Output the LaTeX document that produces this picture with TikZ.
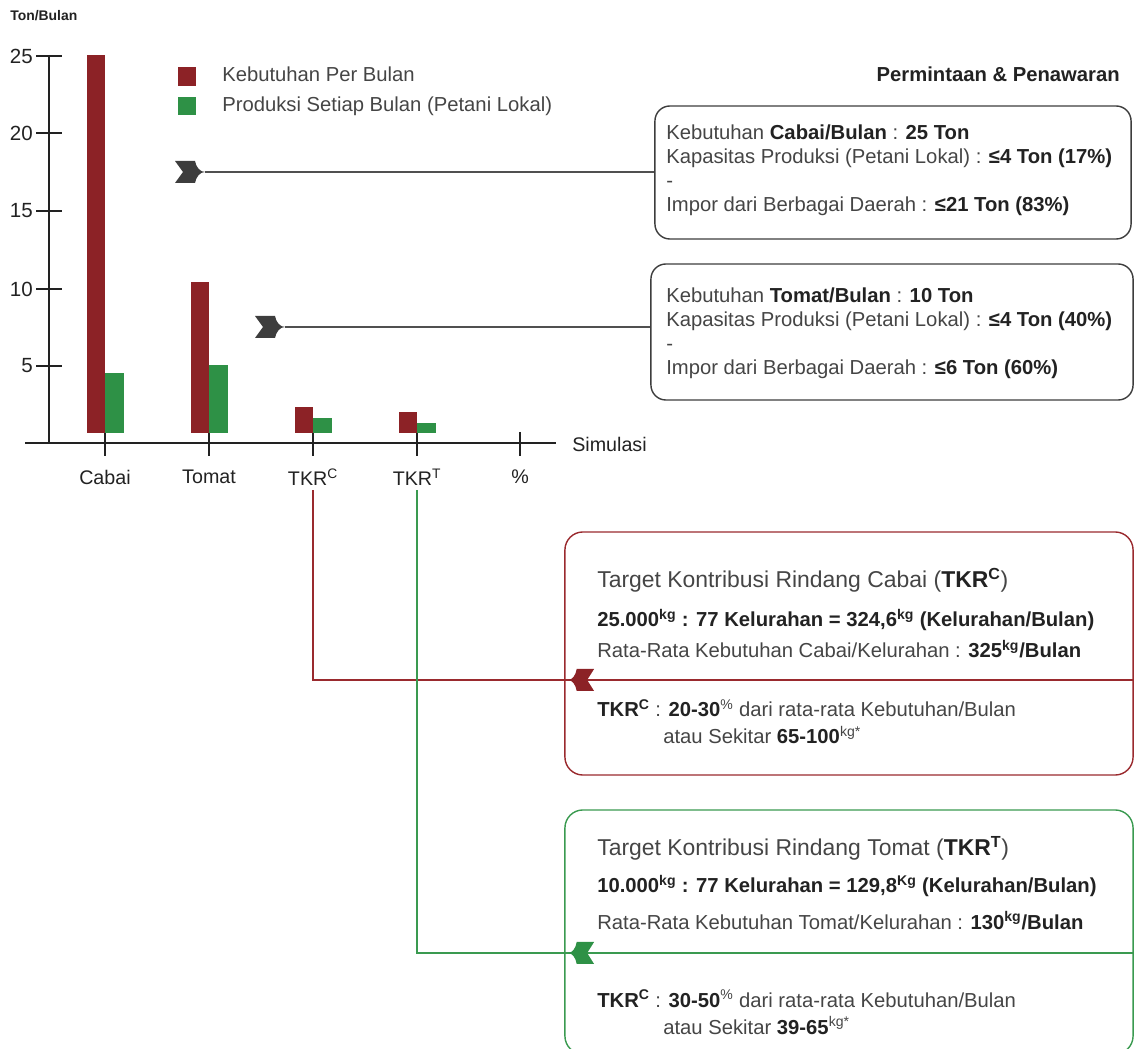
\documentclass[tikz,border=0pt]{standalone}
\usepackage{fontspec}
\setmainfont{Liberation Sans}
\usetikzlibrary{calc}
\definecolor{kebred}{HTML}{8C2226}
\definecolor{prodgreen}{HTML}{2E9146}
\definecolor{arrgray}{HTML}{3D3D3D}
\definecolor{txtgray}{HTML}{454545}
\definecolor{darktxt}{HTML}{222222}
\definecolor{boxred}{HTML}{9A2A2E}
\definecolor{boxgreen}{HTML}{3A9A50}
\tikzset{
    body/.style={anchor=base west, inner sep=0pt, text=txtgray, font=\fontsize{14.4}{17}\selectfont},
    head/.style={body, text=darktxt, font=\fontsize{14.4}{17}\selectfont\bfseries},
    title/.style={body, font=\fontsize{16.3}{19}\selectfont},
    unitlbl/.style={anchor=base west, inner sep=0pt, text=darktxt, font=\fontsize{9.9}{12}\selectfont\bfseries},
    num/.style={anchor=east, inner sep=0pt, text=darktxt, font=\fontsize{14.6}{17}\selectfont},
    cat/.style={text=darktxt, font=\fontsize{14}{17}\selectfont},
    axis/.style={line width=1.4pt, darktxt},
    conn/.style={line width=1pt, arrgray!90},
    infobox/.style={draw=arrgray, line width=1pt, rounded corners=0.375cm},
    tkrbox/.style={line width=1pt, rounded corners=0.45cm}
}
\newcommand{\hb}[1]{\textbf{\color{darktxt}#1}}
\newcommand{\chevtip}[3]{%
    \fill[#2, shift={(#1)}, xscale=#3] (0,0) .. controls (-5,0) and (-9,-5) .. (-10,-11)
        -- (-30,-11) -- (-22,0) -- (-30,11) -- (-10,11) .. controls (-9,5) and (-5,0) .. (0,0) -- cycle;}

\begin{document}
\begin{tikzpicture}[x=0.025cm, y=-0.025cm]
    \useasboundingbox (0,0) rectangle (1134,1049);

    % axes
    \node[unitlbl] (unit) at (10,21) {Ton/Bulan};
    \draw[axis] (49,55) -- (49,443);
    \draw[axis] (25,443) -- (556,443);
    \foreach \y/\v in {56/25,133/20,211/15,289/10,366/5}{
        \draw[axis] (36,\y) -- (62,\y);
        \node[num] (y\v) at (33,\y) {\v};
    }
    \foreach \x/\n/\t in {105/cab/Cabai,209/tom/Tomat,313/tkrc/TKR\textsuperscript{C},417/tkrt/TKR\textsuperscript{T},520/pct/\%}{
        \draw[axis] (\x,432) -- (\x,456);
        \node[cat] (\n) at (\x,477) {\t};
    }
    \node[cat, anchor=west, inner sep=0pt] (sim) at (572,444) {Simulasi};

    % bars
    \foreach \x/\r/\g in {105/55/373,209/282/365,313/407/418,417/412/423}{
        \fill[kebred] (\x-18,433) rectangle (\x,\r);
        \fill[prodgreen] (\x,433) rectangle (\x+19,\g);
    }

    % legend
    \fill[kebred] (178,67) rectangle (196,86);
    \fill[prodgreen] (178,97) rectangle (196,115);
    \node[body] (legK) at (222,82) {Kebutuhan Per Bulan};
    \node[body] (legP) at (222,112) {Produksi Setiap Bulan (Petani Lokal)};
    \node[head, anchor=base east] (perm) at (1120,82) {Permintaan \& Penawaran};

    % supply boxes
    \node[infobox, minimum width=11.9cm, minimum height=3.325cm] (cabaiBox) at (893,172.5) {};
    \node[body] (c1) at (666,140) {Kebutuhan \hb{Cabai/Bulan} : \hb{25 Ton}};
    \node[body] (c2) at (666,164) {Kapasitas Produksi (Petani Lokal) : \hb{≤4 Ton (17\%)}};
    \node[body] (c3) at (666,188) {-};
    \node[body] (c4) at (666,212) {Impor dari Berbagai Daerah : \hb{≤21 Ton (83\%)}};

    \node[infobox, minimum width=12.05cm, minimum height=3.4cm] (tomatBox) at (892,332) {};
    \node[body] (t1) at (666,303) {Kebutuhan \hb{Tomat/Bulan} : \hb{10 Ton}};
    \node[body] (t2) at (666,327) {Kapasitas Produksi (Petani Lokal) : \hb{≤4 Ton (40\%)}};
    \node[body] (t3) at (666,351) {-};
    \node[body] (t4) at (666,375) {Impor dari Berbagai Daerah : \hb{≤6 Ton (60\%)}};

    \coordinate (cabaiTip) at (205,172);
    \draw[conn] (cabaiTip) -- (cabaiBox.west |- cabaiTip);
    \chevtip{cabaiTip}{arrgray}{1}
    \coordinate (tomatTip) at (285,327);
    \draw[conn] (tomatTip) -- (tomatBox.west |- tomatTip);
    \chevtip{tomatTip}{arrgray}{1}

    % target boxes
    \node[tkrbox, draw=boxred, minimum width=14.2cm, minimum height=6.075cm] (redBox) at (849,653.5) {};
    \node[title] (r1) at (597,588) {Target Kontribusi Rindang Cabai (\hb{TKR\textsuperscript{C}})};
    \node[head] (r2) at (597,627) {25.000\textsuperscript{kg} : 77 Kelurahan = 324,6\textsuperscript{kg} (Kelurahan/Bulan)};
    \node[body] (r3) at (597,658) {Rata-Rata Kebutuhan Cabai/Kelurahan : \hb{325\textsuperscript{kg}/Bulan}};
    \node[body] (r4) at (597,717) {\hb{TKR\textsuperscript{C}} : \hb{20-30}\textsuperscript{\%} dari rata-rata Kebutuhan/Bulan};
    \node[body] (r5) at (663,744) {atau Sekitar \hb{65-100}\textsuperscript{kg*}};

    \node[tkrbox, draw=boxgreen, minimum width=14.2cm, minimum height=6.1cm] (greenBox) at (849,932) {};
    \node[title] (g1) at (597,856) {Target Kontribusi Rindang Tomat (\hb{TKR\textsuperscript{T}})};
    \node[head] (g2) at (597,893) {10.000\textsuperscript{kg} : 77 Kelurahan = 129,8\textsuperscript{Kg} (Kelurahan/Bulan)};
    \node[body] (g3) at (597,929) {Rata-Rata Kebutuhan Tomat/Kelurahan : \hb{130\textsuperscript{kg}/Bulan}};
    \node[body] (g4) at (597,1007) {\hb{TKR\textsuperscript{C}} : \hb{30-50}\textsuperscript{\%} dari rata-rata Kebutuhan/Bulan};
    \node[body] (g5) at (663,1034) {atau Sekitar \hb{39-65}\textsuperscript{kg*}};

    \coordinate (redTip) at (568,680);
    \draw[line width=0.9pt, boxred] (tkrc.south) |- (redBox.east |- redTip);
    \chevtip{redTip}{kebred}{-0.87}
    \coordinate (greenTip) at (568,953);
    \draw[line width=0.9pt, boxgreen] (tkrt.south) |- (greenBox.east |- greenTip);
    \chevtip{greenTip}{prodgreen}{-0.87}
\end{tikzpicture}
\end{document}
